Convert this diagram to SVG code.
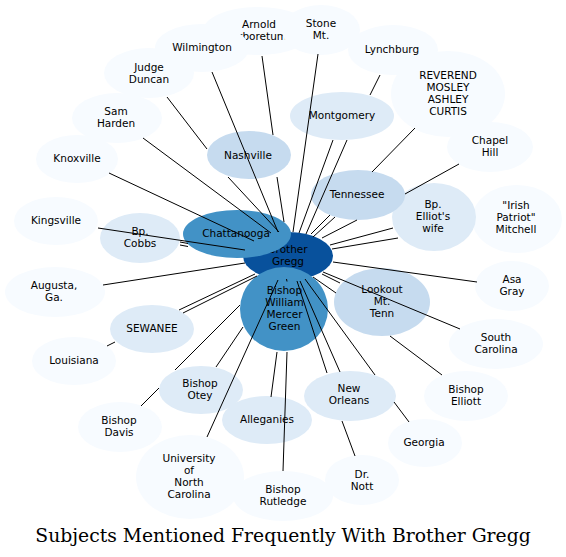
<svg xmlns="http://www.w3.org/2000/svg" width="566" height="557" viewBox="0 0 566 557">
<style>
.n0{fill:#f7fbff}.n1{fill:#deebf7}.n2{fill:#c6dbef}.n3{fill:#4292c6}.n4{fill:#08519c}
text{font-family:"DejaVu Sans","Liberation Sans",sans-serif;font-size:10.5px;text-anchor:middle;fill:#000}
.e path{fill:none;stroke:#000;stroke-width:1}
.title{font-family:"DejaVu Serif","Liberation Serif",serif;font-size:18.75px}
</style>
<rect width="566" height="557" fill="#fff"/>
<g id="nodes">
<g id="arnold"><ellipse class="n0" cx="258" cy="31" rx="55" ry="24"/><text x="259" y="27.8">Arnold</text><text x="259" y="39.8">Arboretum</text></g>
<g id="wilmington"><ellipse class="n0" cx="202" cy="48" rx="47" ry="24"/><text x="202" y="50.8">Wilmington</text></g>
<g id="stone"><ellipse class="n0" cx="321" cy="30" rx="39" ry="25"/><text x="321" y="26.8">Stone</text><text x="321" y="38.8">Mt.</text></g>
<g id="judge"><ellipse class="n0" cx="149" cy="73" rx="45" ry="25"/><text x="149" y="70.8">Judge</text><text x="149" y="82.8">Duncan</text></g>
<g id="samharden"><ellipse class="n0" cx="117" cy="118" rx="45" ry="25"/><text x="116" y="114.8">Sam</text><text x="116" y="126.8">Harden</text></g>
<g id="knoxville"><ellipse class="n0" cx="77" cy="159" rx="41" ry="24"/><text x="77" y="162.3">Knoxville</text></g>
<g id="lynchburg"><ellipse class="n0" cx="393" cy="50" rx="45" ry="25"/><text x="392" y="52.8">Lynchburg</text></g>
<g id="reverend"><ellipse class="n0" cx="448" cy="94" rx="57" ry="43"/><text x="448" y="78.8">REVEREND</text><text x="448" y="90.8">MOSLEY</text><text x="448" y="102.8">ASHLEY</text><text x="448" y="114.8">CURTIS</text></g>
<g id="chapelhill"><ellipse class="n0" cx="490" cy="147" rx="43" ry="25"/><text x="490" y="143.8">Chapel</text><text x="490" y="155.8">Hill</text></g>
<g id="montgomery"><ellipse class="n1" cx="342" cy="116" rx="52" ry="24"/><text x="342" y="118.8">Montgomery</text></g>
<g id="nashville"><ellipse class="n2" cx="249" cy="155" rx="42" ry="24"/><text x="248" y="158.8">Nashville</text></g>
<g id="mitchell"><ellipse class="n0" cx="517" cy="219" rx="45" ry="34"/><text x="516" y="209.3">"Irish</text><text x="516" y="221.3">Patriot"</text><text x="516" y="233.3">Mitchell</text></g>
<g id="elliotswife"><ellipse class="n1" cx="434" cy="217" rx="42" ry="34"/><text x="433" y="207.8">Bp.</text><text x="433" y="219.8">Elliot's</text><text x="433" y="231.8">wife</text></g>
<g id="tennessee"><ellipse class="n2" cx="358" cy="195" rx="47" ry="25"/><text x="357" y="197.8">Tennessee</text></g>
<g id="asagray"><ellipse class="n0" cx="512" cy="286" rx="37" ry="25"/><text x="512" y="282.8">Asa</text><text x="512" y="294.8">Gray</text></g>
<g id="southcarolina"><ellipse class="n0" cx="496" cy="344" rx="47" ry="25"/><text x="496" y="340.8">South</text><text x="496" y="352.8">Carolina</text></g>
<g id="lookout"><ellipse class="n2" cx="382" cy="302" rx="48" ry="34"/><text x="382" y="292.8">Lookout</text><text x="382" y="304.8">Mt.</text><text x="382" y="316.8">Tenn</text></g>
<g id="bishopelliott"><ellipse class="n0" cx="466" cy="396" rx="42" ry="25"/><text x="466" y="392.8">Bishop</text><text x="466" y="404.8">Elliott</text></g>
<g id="georgia"><ellipse class="n0" cx="425" cy="443" rx="37" ry="24"/><text x="424" y="445.8">Georgia</text></g>
<g id="drnott"><ellipse class="n0" cx="362" cy="480" rx="37" ry="25"/><text x="362" y="477.8">Dr.</text><text x="362" y="489.8">Nott</text></g>
<g id="neworleans"><ellipse class="n1" cx="350" cy="396" rx="46" ry="25"/><text x="349" y="391.8">New</text><text x="349" y="403.8">Orleans</text></g>
<g id="rutledge"><ellipse class="n0" cx="283" cy="496" rx="50" ry="25"/><text x="283" y="492.8">Bishop</text><text x="283" y="504.8">Rutledge</text></g>
<g id="unc"><ellipse class="n0" cx="190" cy="477" rx="54" ry="42"/><text x="189" y="461.8">University</text><text x="189" y="473.8">of</text><text x="189" y="485.8">North</text><text x="189" y="497.8">Carolina</text></g>
<g id="alleganies"><ellipse class="n1" cx="267" cy="420" rx="45" ry="24"/><text x="267" y="422.8">Alleganies</text></g>
<g id="bishopdavis"><ellipse class="n0" cx="120" cy="427" rx="42" ry="25"/><text x="119" y="423.8">Bishop</text><text x="119" y="435.8">Davis</text></g>
<g id="bishopotey"><ellipse class="n1" cx="201" cy="390" rx="42" ry="24"/><text x="200" y="386.8">Bishop</text><text x="200" y="398.8">Otey</text></g>
<g id="louisiana"><ellipse class="n0" cx="74" cy="361" rx="42" ry="24"/><text x="74" y="364.3">Louisiana</text></g>
<g id="sewanee"><ellipse class="n1" cx="152" cy="329" rx="42" ry="24"/><text x="152" y="331.8">SEWANEE</text></g>
<g id="augusta"><ellipse class="n0" cx="55" cy="292" rx="50" ry="25"/><text x="54" y="288.8">Augusta,</text><text x="54" y="300.8">Ga.</text></g>
<g id="kingsville"><ellipse class="n0" cx="56" cy="221" rx="42" ry="24"/><text x="56" y="223.8">Kingsville</text></g>
<g id="bpcobbs"><ellipse class="n1" cx="140" cy="238" rx="40" ry="25"/><text x="140" y="234.8">Bp.</text><text x="140" y="246.8">Cobbs</text></g>
<g id="brothergregg"><ellipse class="n4" cx="288" cy="256" rx="45" ry="24"/><text x="288" y="252.8">Brother</text><text x="288" y="264.8">Gregg</text></g>
<g id="chattanooga"><ellipse class="n3" cx="237" cy="234" rx="54" ry="24"/><text x="236" y="236.8">Chattanooga</text></g>
<g id="bwmg"><ellipse class="n3" cx="284" cy="309" rx="44" ry="42"/><text x="284.5" y="293.8">Bishop</text><text x="284.5" y="305.8">William</text><text x="284.5" y="317.8">Mercer</text><text x="284.5" y="329.8">Green</text></g>
</g>
<g id="connectors" class="e">
<path d="M109,173L254,241"/>
<path d="M143,138L271,233"/>
<path d="M167,97L207,149M228,177L279,232"/>
<path d="M212,72L278,232"/>
<path d="M262,56L273,135M277,177L284,222"/>
<path d="M318,54L293,232"/>
<path d="M333,140L299,233"/>
<path d="M380,75L370,95M347,140L306,234"/>
<path d="M415,128L372,172M330,215L311,234"/>
<path d="M335,217L313,237"/>
<path d="M459,164L405,194M357,220L322,238"/>
<path d="M393,228L330,245"/>
<path d="M398,238L332,249"/>
<path d="M477,282L333,262"/>
<path d="M460,329L323,272"/>
<path d="M322,274L340,283"/>
<path d="M313,277L336,293M390,336L442,375"/>
<path d="M300,281L340,372"/>
<path d="M297,281L327,373M342,421L355,456"/>
<path d="M305,279L375,375M394,402L409,422"/>
<path d="M207,437L278,280"/>
<path d="M216,367L243,327"/>
<path d="M141,406L159,388M175,370L240,305"/>
<path d="M271,397L277,352"/>
<path d="M283,471L287,352"/>
<path d="M179,310L255,274"/>
<path d="M183,313L257,276"/>
<path d="M107,346L115,342"/>
<path d="M103,285L245,263"/>
<path d="M98,228L245,250"/>
<path d="M180,242L188,243.5"/>
<path d="M180,245L188,246.5"/>
<path d="M286.5,279L287,281.5"/>
</g>
<text class="title" x="283" y="542">Subjects Mentioned Frequently With Brother Gregg</text>
</svg>
